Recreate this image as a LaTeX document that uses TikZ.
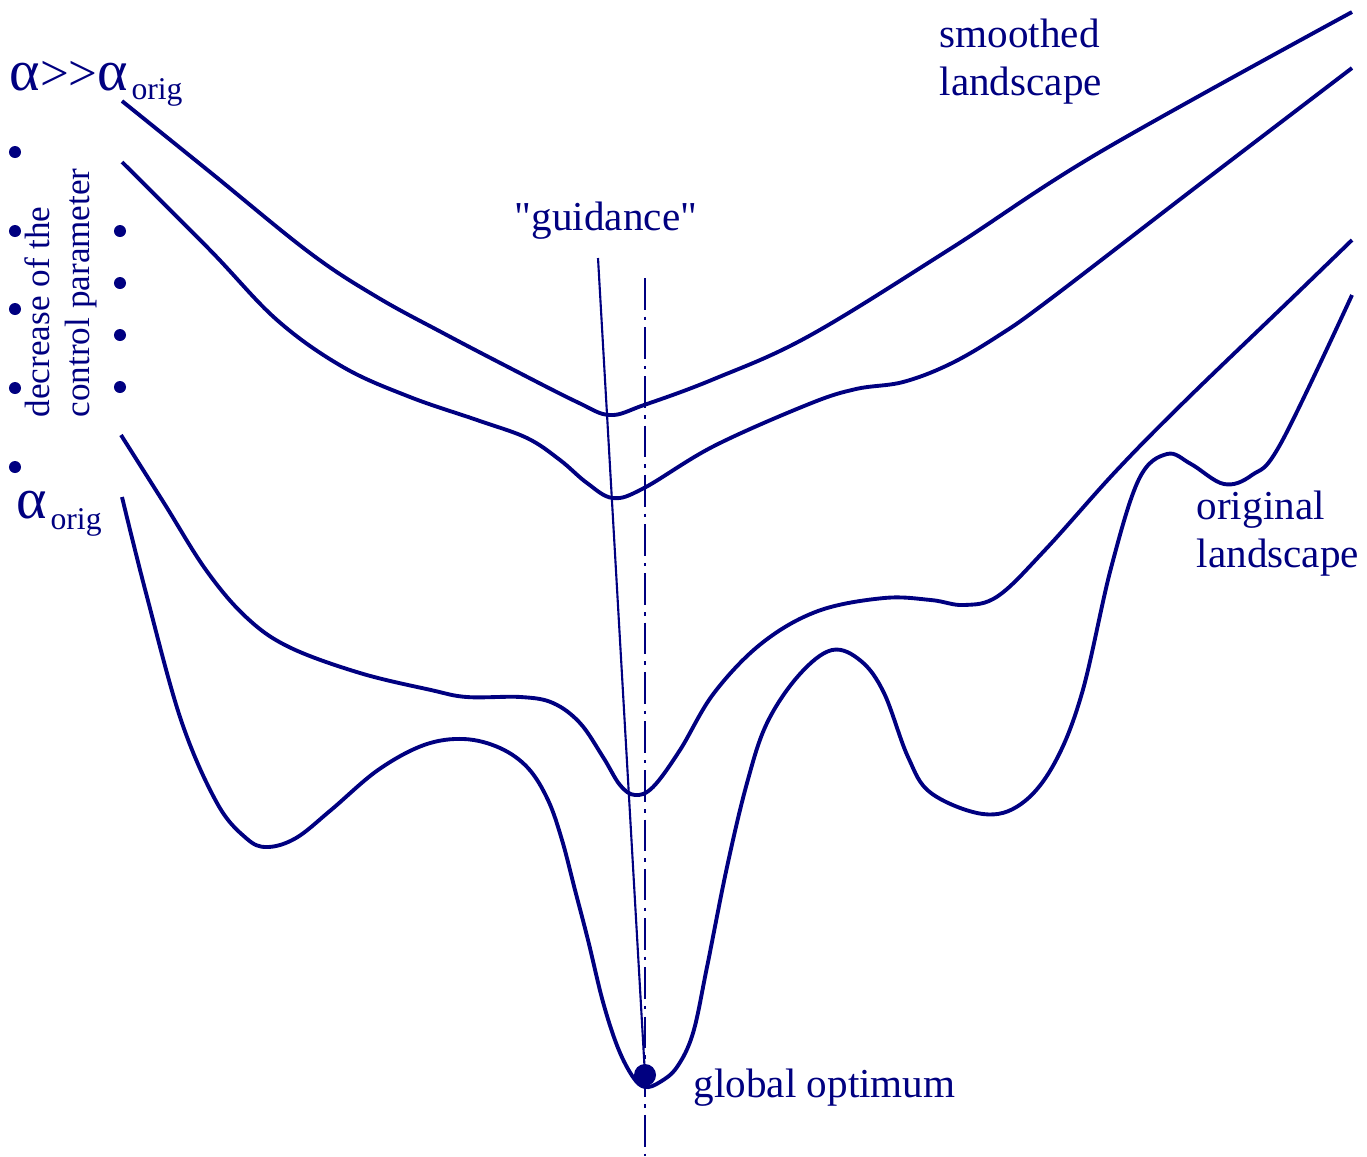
\documentclass[tikz,border=0pt]{standalone}
\usepackage{fontspec}
\setmainfont{Liberation Serif}[Ligatures=TeXOff]
\usepackage{xcolor}
\usepackage{tikz}
\usetikzlibrary{positioning}
\definecolor{navy}{RGB}{0,0,128}

\begin{document}
\begin{tikzpicture}[
  x=0.01cm, y=-0.01cm,
  every node/.style={text=navy,font=\fontsize{11.7}{13.4}\selectfont,inner sep=0pt},
  curve/.style={draw=navy,line width=1.1pt,line join=round},
  lbl/.style={anchor=base west,align=left},
  tick/.style={circle,fill=navy,minimum size=0.12cm},
  optdot/.style={circle,fill=navy,minimum size=0.22cm}]
\useasboundingbox (0,0) rectangle (1367,1156);
% landscapes, from smoothed (top) to original (bottom)
\draw[curve] plot[smooth,tension=0.6] coordinates {(122,101) (210,172) (310,253) (377,297) (443,333) (510,368) (577,402) (610,415) (644,405) (714,379) (809,336) (950,249) (1100,152) (1352,12)};
\draw[curve] plot[smooth,tension=0.6] coordinates {(122,162) (210,250) (277,320) (343,367) (410,397) (477,420) (527,438) (560,460) (587,483) (613,498) (644,488) (714,446) (809,404) (856,389) (903,382) (950,364) (998,336) (1049,300) (1200,184) (1352,68)};
\draw[curve] plot[smooth,tension=0.6] coordinates {(121,435) (164,503) (206,570) (246,617) (289,647) (360,673) (431,690) (467,697) (521,697) (553,703) (580,723) (603,757) (620,785) (635,795) (653,787) (680,750) (714,693) (762,643) (818,611) (884,598) (931,600) (964,605) (998,596) (1045,550) (1116,471) (1186,400) (1290,300) (1352,240)};
\draw[curve] plot[smooth,tension=0.6] coordinates {(122,497) (146,593) (181,720) (217,803) (246,838) (267,847) (296,838) (331,810) (378,770) (424,745) (464,739) (500,748) (528,768) (548,800) (562,840) (575,890) (588,940) (603,1002) (618,1048) (633,1077) (645,1087) (660,1082) (677,1067) (693,1033) (707,967) (727,867) (747,783) (767,723) (799,675) (832,650) (861,661) (884,693) (908,757) (931,793) (983,814) (1021,804) (1054,764) (1082,693) (1111,568) (1139,479) (1167,454) (1191,464) (1224,484) (1252,475) (1281,443) (1352,295)};
% guidance and optimum
\node[optdot] (opt) at (645,1075) {};
\coordinate (guide) at (598,258);
\draw[navy,line width=0.6pt] (guide) -- (opt.center);
\coordinate (axtop) at (645,278);
\coordinate (axbot) at (645,1156);
\draw[navy,line width=0.5pt,dash pattern=on 9pt off 2pt on 1pt off 2pt] (axtop) -- (axbot);
% dots
\foreach \y [count=\i] in {152,231,309,388,467}
  \node[tick] (l\i) at (15,\y) {};
\foreach \y [count=\i] in {231,283,335,387}
  \node[tick] (r\i) at (120,\y) {};
% labels
\node[lbl] (smooth) at (939,95) {smoothed\\landscape};
\node[lbl] (orig) at (1196,567) {original\\landscape};
\node[lbl] (glob) at (693,1097) {global optimum};
\node[anchor=base] (guidance) at (606,230) {"guidance"};
\node[lbl] (ahigh) at (9,90) {{\fontsize{16.5}{18}\selectfont α}{\fontsize{14.5}{16}\selectfont >>}{\fontsize{16.5}{18}\selectfont α}\kern1pt\raisebox{-2.8pt}{\fontsize{9}{10}\selectfont orig}};
\node[lbl] (alow) at (16,518) {{\fontsize{16.5}{18}\selectfont α}\kern1pt\raisebox{-3.4pt}{\fontsize{9}{10}\selectfont orig}};
\node[rotate=90,anchor=west,align=left,font=\fontsize{10}{11.5}\selectfont] (decr) at (61,418) {decrease of the\\control parameter};
\end{tikzpicture}
\end{document}
